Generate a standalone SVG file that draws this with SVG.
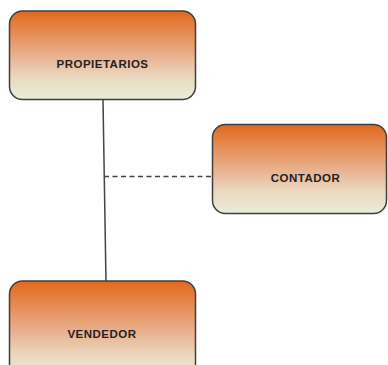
<svg xmlns="http://www.w3.org/2000/svg" width="388" height="365" viewBox="0 0 388 365">
  <defs>
    <linearGradient id="boxFill" x1="0" y1="0" x2="0" y2="1">
      <stop offset="0" stop-color="#E2691C"/>
      <stop offset="0.5" stop-color="#E8B08C"/>
      <stop offset="0.75" stop-color="#EBD8C0"/>
      <stop offset="1" stop-color="#E9EEDA"/>
    </linearGradient>
  </defs>
  <style>
    .box { fill: url(#boxFill); stroke: #3f3f3f; stroke-width: 1.5; }
    .label { font-family: "Liberation Sans", Arial, sans-serif; font-weight: bold; font-size: 11.5px; letter-spacing: 0.5px; fill: #222; text-anchor: middle; }
    .link { stroke: #444; stroke-width: 1.5; fill: none; }
    .dash { stroke-dasharray: 5 3.5; }
  </style>
  <rect width="388" height="365" fill="#fff"/>
  <g id="connectors">
    <line class="link" x1="103" y1="100" x2="106" y2="282"/>
    <line class="link dash" x1="104" y1="176.5" x2="212" y2="176.5"/>
  </g>
  <g id="propietarios">
    <rect class="box" x="9.5" y="11" width="186" height="88.5" rx="13"/>
    <text class="label" x="102.5" y="68">PROPIETARIOS</text>
  </g>
  <g id="contador">
    <rect class="box" x="212.5" y="124.5" width="174" height="89" rx="13"/>
    <text class="label" x="305.5" y="182">CONTADOR</text>
  </g>
  <g id="vendedor">
    <rect class="box" x="9.5" y="281" width="186" height="100" rx="13"/>
    <text class="label" x="102" y="338">VENDEDOR</text>
  </g>
</svg>
